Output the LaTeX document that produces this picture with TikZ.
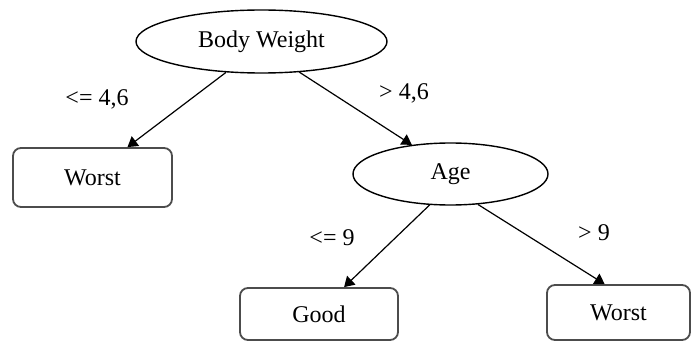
\documentclass[tikz,border=0pt]{standalone}
\usepackage{fontspec}
\setmainfont{Liberation Serif}
\usetikzlibrary{shapes.geometric,arrows.meta}

\begin{document}
\begin{tikzpicture}[x=0.5pt,y=-0.5pt,
	every node/.style={font=\fontsize{12}{14}\selectfont},
	test/.style={draw, ellipse, line width=0.7pt, inner sep=0pt},
	leaf/.style={draw=black!70, rectangle, rounded corners=4pt, line width=0.9pt, inner sep=0pt},
	arr/.style={-{Triangle[length=5pt,width=6pt]}, line width=0.6pt}]
	\useasboundingbox (0,0) rectangle (691,342);
	% decision nodes
	\node[test, minimum width=125.5pt, minimum height=31.5pt] (bw) at (261.5,41.5) {Body Weight};
	\node[test, minimum width=97.5pt, minimum height=31pt] (age) at (450.5,174) {Age};
	% leaves
	\node[leaf, minimum width=79.5pt, minimum height=29.5pt] (worstL) at (92.5,177.5) {Worst};
	\node[leaf, minimum width=79pt, minimum height=26pt] (good) at (319,314) {Good};
	\node[leaf, minimum width=71.5pt, minimum height=27.5pt] (worstR) at (618.5,312.5) {Worst};
	% branches
	\draw[arr] (bw.-139) -- (worstL.41);
	\draw[arr] (bw.-39) -- (age.143);
	\draw[arr] (age.-124) -- (good.47);
	\draw[arr] (age.-48) -- (worstR.116);
	% split values
	\node (lowBW) at (97,99) {<= 4,6};
	\node (highBW) at (404,93) {> 4,6};
	\node (lowAge) at (332,238) {<= 9};
	\node (highAge) at (594,233) {> 9};
\end{tikzpicture}
\end{document}
